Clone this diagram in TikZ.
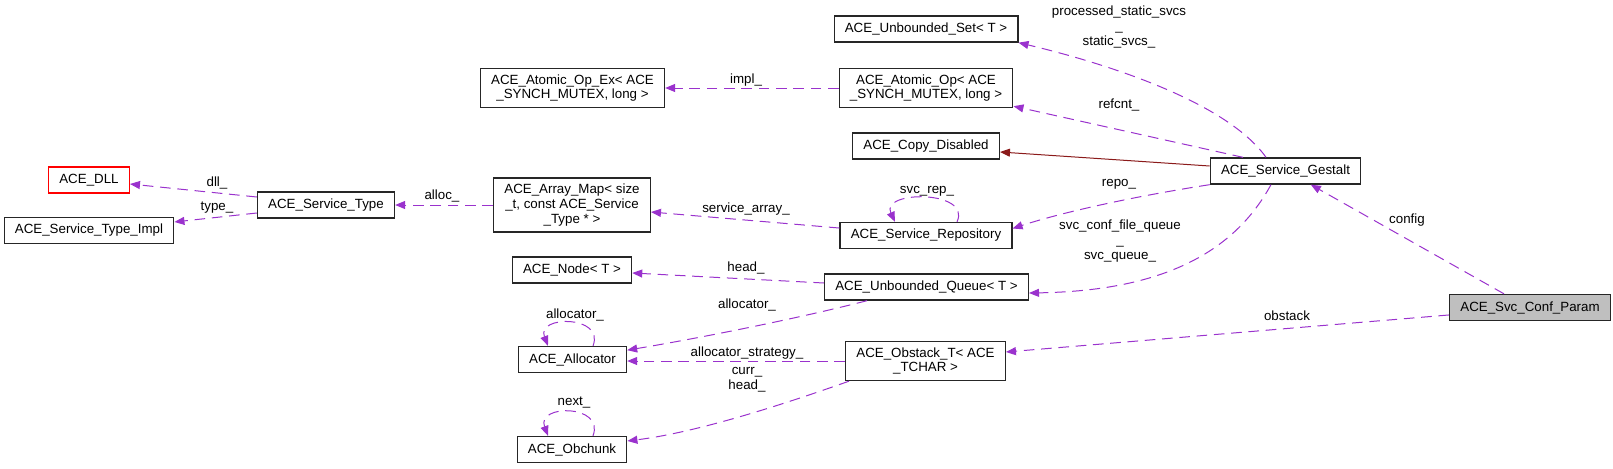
\documentclass[tikz,border=0pt]{standalone}
\usepackage{fontspec}
\setmainfont{Liberation Sans}
\usetikzlibrary{arrows.meta}
\definecolor{depcol}{HTML}{9A32CD}
\definecolor{inhcol}{HTML}{8B1A1A}
\definecolor{curcol}{HTML}{BFBFBF}
\newcommand{\gfont}{\fontsize{10}{11}\selectfont}
\tikzset{
  cls/.style={draw=black!85, line width=1pt, fill=white, inner xsep=8pt, inner ysep=4.5pt, minimum height=19.5pt, align=center, font=\gfont},
  lbl/.style={inner sep=0pt, align=center, font=\gfont},
  uses/.style={depcol, line width=0.75pt, dash pattern=on 8pt off 5pt, -{Triangle[length=7.5pt,width=6pt]}},
  inh/.style={inhcol, line width=0.75pt, -{Triangle[length=7.5pt,width=6pt]}}
}

\begin{document}
\begin{tikzpicture}[x=0.75pt, y=-0.75pt]
\useasboundingbox (0,0) rectangle (1613,468);

\node[cls] (uset) at (926,29) {ACE\_Unbounded\_Set< T >};
\node[cls] (opex) at (572.5,88) {ACE\_Atomic\_Op\_Ex< ACE\\\_SYNCH\_MUTEX, long >};
\node[cls] (aop) at (926,88) {ACE\_Atomic\_Op< ACE\\\_SYNCH\_MUTEX, long >};
\node[cls] (copy) at (926,146) {ACE\_Copy\_Disabled};
\node[cls, draw=red] (dll) at (89,180) {ACE\_DLL};
\node[cls] (stype) at (326,205) {ACE\_Service\_Type};
\node[cls] (stimpl) at (89,230.5) {ACE\_Service\_Type\_Impl};
\node[cls] (amap) at (572,205) {ACE\_Array\_Map< size\\\_t, const ACE\_Service\\\_Type * >};
\node[cls] (gestalt) at (1285.5,171) {ACE\_Service\_Gestalt};
\node[cls] (repo) at (926,235.5) {ACE\_Service\_Repository};
\node[cls] (qnode) at (572,270) {ACE\_Node< T >};
\node[cls] (queue) at (926.5,287) {ACE\_Unbounded\_Queue< T >};
\node[cls, fill=curcol] (param) at (1530,307.5) {ACE\_Svc\_Conf\_Param};
\node[cls] (alloc) at (572.5,359.5) {ACE\_Allocator};
\node[cls] (obstack) at (925.5,361) {ACE\_Obstack\_T< ACE\\\_TCHAR >};
\node[cls] (chunk) at (572,449.5) {ACE\_Obchunk};

\draw[uses] ([xshift=-14.6pt]gestalt.north) .. controls (1225,100) and (1100,62) .. (uset.south east);
\draw[uses] ([xshift=-31.9pt]gestalt.north) -- ([yshift=1.5pt]aop.south east);
\draw[inh] ([yshift=3.75pt]gestalt.west) -- ([yshift=-4.5pt]copy.east);
\draw[uses] (gestalt.south west) .. controls (1130,197) and (1060,213) .. ([yshift=5.25pt]repo.east);
\draw[uses] ([xshift=-10.9pt]gestalt.south) .. controls (1230,260) and (1150,291) .. ([yshift=-4.5pt]queue.east);
\draw[uses] ([xshift=-19.5pt]param.north) -- ([xshift=19pt]gestalt.south);
\draw[uses] ([yshift=-5.6pt]param.west) -- ([yshift=6.75pt]obstack.east);
\draw[uses] ([yshift=3pt]queue.west) -- ([yshift=-2.25pt]qnode.east);
\draw[uses] ([xshift=-44.6pt]queue.south) .. controls (800,318) and (700,338) .. ([yshift=7pt]alloc.east);
\draw[uses] (obstack.west) -- (obstack.west -| alloc.east);
\draw[uses] ([xshift=3pt]obstack.south west) .. controls (790,402) and (700,432) .. ([yshift=6.4pt]chunk.east);
\draw[uses] ([yshift=5.6pt]repo.west) -- ([yshift=-5.25pt]amap.east);
\draw[uses] ([xshift=23.25pt]repo.north) .. controls (972,190) and (880,190) .. ([xshift=-23.25pt]repo.north);
\draw[uses] (aop.west) -- (opex.east);
\draw[uses] (amap.west) -- (stype.east);
\draw[uses] ([yshift=6pt]stype.west) -- ([yshift=-3pt]dll.east);
\draw[uses] ([yshift=-6pt]stype.west) -- ([yshift=6.4pt]stimpl.east);
\draw[uses] ([xshift=15.4pt]alloc.north) .. controls (605,315) and (536,315) .. ([xshift=-18.4pt]alloc.north);
\draw[uses] ([xshift=15.75pt]chunk.north) .. controls (605,404) and (536,404) .. ([xshift=-18pt]chunk.north);

\node[lbl] (l-pss) at (1119,27) {processed\_static\_svcs\\\_\\static\_svcs\_};
\node[lbl] (l-refcnt) at (1119,105) {refcnt\_};
\node[lbl] (l-impl) at (746,80) {impl\_};
\node[lbl] (l-dll) at (217,183) {dll\_};
\node[lbl] (l-type) at (217,208) {type\_};
\node[lbl] (l-alloc) at (442,196) {alloc\_};
\node[lbl] (l-sarr) at (746,209) {service\_array\_};
\node[lbl] (l-svcrep) at (927,191) {svc\_rep\_};
\node[lbl] (l-repo) at (1119,184) {repo\_};
\node[lbl] (l-config) at (1407,220) {config};
\node[lbl] (l-svcq) at (1120,241) {svc\_conf\_file\_queue\\\_\\svc\_queue\_};
\node[lbl] (l-head) at (746,268) {head\_};
\node[lbl] (l-obstack) at (1287,316) {obstack};
\node[lbl] (l-allocself) at (575,315) {allocator\_};
\node[lbl] (l-allocq) at (747,305) {allocator\_};
\node[lbl] (l-strategy) at (747,353) {allocator\_strategy\_};
\node[lbl] (l-currhead) at (747,380) {curr\_\\head\_};
\node[lbl] (l-next) at (574,403) {next\_};
\end{tikzpicture}
\end{document}
